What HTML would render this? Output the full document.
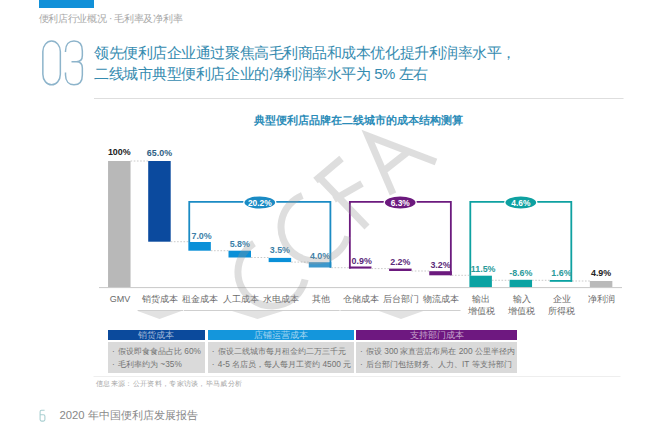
<!DOCTYPE html>
<html><head><meta charset="utf-8"><style>
html,body{margin:0;padding:0;background:#fff;}
body{width:660px;height:441px;position:relative;overflow:hidden;font-family:"Liberation Sans",sans-serif;}
.a{position:absolute;white-space:nowrap;}
.j{display:inline-block;white-space:nowrap;text-align:justify;text-align-last:justify;}
.cat{position:absolute;top:292.5px;width:50px;text-align:center;font-size:9px;line-height:12.2px;color:#6a6a6a;}
.hdr{position:absolute;top:329.6px;height:10.5px;font-size:9.3px;line-height:10.5px;text-align:center;color:rgba(255,255,255,0.6);}
.bd{position:absolute;top:342px;height:30.5px;background:#dadada;font-size:8.3px;color:#737373;}
.bd div{position:absolute;left:10px;white-space:nowrap;line-height:10px;}
.bd b{position:absolute;left:-6px;font-weight:normal;}
</style></head><body>
<div class="a" style="left:39px;top:0;width:54.5px;height:7.5px;background:#1190d8"></div>
<div class="a"><span class="j" style="width:143.80px;position:absolute;left:38.5px;top:12.6px;font-size:10px;line-height:12px;color:#a8a8a8;letter-spacing:-0.3px">便利店行业概况 · 毛利率及净利率</span></div>
<svg class="a" style="left:0;top:0" width="660" height="441" viewBox="0 0 660 441">
<g fill="none" stroke="#8db4cb" stroke-width="1.5">
<rect x="42.85" y="41.05" width="17.5" height="43.8" rx="8.75" ry="10.5"/>
<path d="M65.5 52 V51 C65.5 44.5 69 41.05 74 41.05 C79 41.05 82.35 44.5 82.35 51 V55.5 C82.35 59.5 80 61.7 76.5 61.7 H71.5 M76.5 61.7 C80 61.7 82.35 64 82.35 68 V75 C82.35 81.4 79 84.85 74 84.85 C69 84.85 65.5 81.4 65.5 75 V72.5"/>
</g>
<line x1="94" y1="98.5" x2="623.5" y2="98.5" stroke="#dedede" stroke-width="1.2"/>
<line x1="93.5" y1="376.5" x2="620.5" y2="376.5" stroke="#eeeeee" stroke-width="1"/>
</svg>
<div class="a" style="left:94px;top:41.5px;font-size:15px;letter-spacing:-0.45px;line-height:21.8px;color:#358bb0"><span class="j" style="width:421.95px;">领先便利店企业通过聚焦高毛利商品和成本优化提升利润率水平，</span><br><span class="j" style="width:333.77px;">二线城市典型便利店企业的净利润率水平为 5% 左右</span></div>
<div class="a" style="left:253.6px;top:113.5px;font-size:10.9px;line-height:13px;font-weight:bold;color:#2b8cb8"><span class="j" style="width:209.00px;">典型便利店品牌在二线城市的成本结构测算</span></div>
<svg class="a" style="left:0;top:0" width="660" height="441" viewBox="0 0 660 441">
<rect x="108.05" y="161" width="22.5" height="126.30" fill="#b8b8b8"/>
<rect x="148.20" y="161" width="22.5" height="80.70" fill="#0b4a9e"/>
<rect x="188.35" y="242" width="22.5" height="8.70" fill="#0a90d8"/>
<rect x="228.50" y="250.7" width="22.5" height="6.80" fill="#0a90d8"/>
<rect x="268.65" y="257.9" width="22.5" height="4.20" fill="#0a90d8"/>
<rect x="308.80" y="262.2" width="22.5" height="5.30" fill="#3d98cc"/>
<rect x="348.95" y="266.5" width="22.5" height="2.10" fill="#6c1a7e"/>
<rect x="389.10" y="268.6" width="22.5" height="2.40" fill="#6c1a7e"/>
<rect x="429.25" y="271.2" width="22.5" height="4.10" fill="#6c1a7e"/>
<rect x="469.40" y="275.7" width="22.5" height="11.80" fill="#0aa2a2"/>
<rect x="509.55" y="279.8" width="22.5" height="7.70" fill="#0aa2a2"/>
<rect x="549.70" y="280.0" width="22.5" height="1.80" fill="#0aa2a2"/>
<rect x="589.85" y="281.0" width="22.5" height="6.30" fill="#bababa"/>
<line x1="130.55" y1="161" x2="148.20" y2="161" stroke="#c4c4c4" stroke-width="0.9" stroke-dasharray="1.6 1.6"/>
<line x1="170.70" y1="241.7" x2="188.35" y2="241.7" stroke="#c4c4c4" stroke-width="0.9" stroke-dasharray="1.6 1.6"/>
<line x1="210.85" y1="250.7" x2="228.50" y2="250.7" stroke="#c4c4c4" stroke-width="0.9" stroke-dasharray="1.6 1.6"/>
<line x1="251.00" y1="257.5" x2="268.65" y2="257.5" stroke="#c4c4c4" stroke-width="0.9" stroke-dasharray="1.6 1.6"/>
<line x1="291.15" y1="262.1" x2="308.80" y2="262.1" stroke="#c4c4c4" stroke-width="0.9" stroke-dasharray="1.6 1.6"/>
<line x1="331.30" y1="267.7" x2="348.95" y2="267.7" stroke="#c4c4c4" stroke-width="0.9" stroke-dasharray="1.6 1.6"/>
<line x1="371.45" y1="268.6" x2="389.10" y2="268.6" stroke="#c4c4c4" stroke-width="0.9" stroke-dasharray="1.6 1.6"/>
<line x1="411.60" y1="271" x2="429.25" y2="271" stroke="#c4c4c4" stroke-width="0.9" stroke-dasharray="1.6 1.6"/>
<line x1="451.75" y1="275.3" x2="469.40" y2="275.3" stroke="#c4c4c4" stroke-width="0.9" stroke-dasharray="1.6 1.6"/>
<line x1="491.90" y1="280.3" x2="509.55" y2="280.3" stroke="#c4c4c4" stroke-width="0.9" stroke-dasharray="1.6 1.6"/>
<line x1="532.05" y1="280.3" x2="549.70" y2="280.3" stroke="#c4c4c4" stroke-width="0.9" stroke-dasharray="1.6 1.6"/>
<line x1="572.20" y1="281" x2="589.85" y2="281" stroke="#c4c4c4" stroke-width="0.9" stroke-dasharray="1.6 1.6"/>
<path d="M189.25 242 V201.8 H330.40 V267.7" fill="none" stroke="#1b8bc4" stroke-width="1.8"/><ellipse cx="259.8" cy="202.5" rx="16.6" ry="7.3" fill="#fff"/><ellipse cx="259.8" cy="202.5" rx="15.3" ry="6.1" fill="#1b8bc4"/><text x="259.8" y="205.6" text-anchor="middle" font-family="Liberation Sans" font-weight="bold" font-size="8.4" fill="#fff">20.2%</text>
<path d="M349.85 268.6 V201.8 H450.85 V275.3" fill="none" stroke="#6c1a7e" stroke-width="1.8"/><ellipse cx="400.2" cy="202.5" rx="16.6" ry="7.3" fill="#fff"/><ellipse cx="400.2" cy="202.5" rx="15.3" ry="6.1" fill="#6c1a7e"/><text x="400.2" y="205.6" text-anchor="middle" font-family="Liberation Sans" font-weight="bold" font-size="8.4" fill="#fff">6.3%</text>
<path d="M470.30 275.7 V201.8 H571.30 V281.8" fill="none" stroke="#0ea1a1" stroke-width="1.8"/><ellipse cx="520.8" cy="202.5" rx="16.6" ry="7.3" fill="#fff"/><ellipse cx="520.8" cy="202.5" rx="15.3" ry="6.1" fill="#0ea1a1"/><text x="520.8" y="205.6" text-anchor="middle" font-family="Liberation Sans" font-weight="bold" font-size="8.4" fill="#fff">4.6%</text>
<line x1="99" y1="287.6" x2="622" y2="287.6" stroke="#c8c8c8" stroke-width="1"/>
<line x1="137.6" y1="310.5" x2="183.3" y2="310.5" stroke="#cfcfcf" stroke-width="1"/>
<line x1="184" y1="310.5" x2="339.6" y2="310.5" stroke="#cfcfcf" stroke-width="1"/>
<line x1="340.4" y1="310.5" x2="460.5" y2="310.5" stroke="#cfcfcf" stroke-width="1"/>
<polygon points="137.6,311 181.5,311 159.5,319" fill="#e2e2e2"/>
<polygon points="232,311 283,311 257.5,319" fill="#e2e2e2"/>
<polygon points="379,311 423.4,311 401,319" fill="#e2e2e2"/>
<text x="119.30" y="155.3" text-anchor="middle" font-family="Liberation Sans" font-weight="bold" font-size="8.9" fill="#222">100%</text>
<text x="159.45" y="156.4" text-anchor="middle" font-family="Liberation Sans" font-weight="bold" font-size="8.9" fill="#2f5f85">65.0%</text>
<text x="201.60" y="238.8" text-anchor="middle" font-family="Liberation Sans" font-weight="bold" font-size="8.9" fill="#3c7fa8">7.0%</text>
<text x="239.75" y="247.4" text-anchor="middle" font-family="Liberation Sans" font-weight="bold" font-size="8.9" fill="#3c7fa8">5.8%</text>
<text x="279.90" y="253.4" text-anchor="middle" font-family="Liberation Sans" font-weight="bold" font-size="8.9" fill="#3c7fa8">3.5%</text>
<text x="320.05" y="258.8" text-anchor="middle" font-family="Liberation Sans" font-weight="bold" font-size="8.9" fill="#3c7fa8">4.0%</text>
<text x="361.70" y="264.2" text-anchor="middle" font-family="Liberation Sans" font-weight="bold" font-size="8.9" fill="#5b2a7a">0.9%</text>
<text x="400.35" y="265.2" text-anchor="middle" font-family="Liberation Sans" font-weight="bold" font-size="8.9" fill="#5b2a7a">2.2%</text>
<text x="440.50" y="267.8" text-anchor="middle" font-family="Liberation Sans" font-weight="bold" font-size="8.9" fill="#5b2a7a">3.2%</text>
<text x="483.15" y="271.5" text-anchor="middle" font-family="Liberation Sans" font-weight="bold" font-size="8.9" fill="#2a9a9a">11.5%</text>
<text x="520.80" y="275.5" text-anchor="middle" font-family="Liberation Sans" font-weight="bold" font-size="8.9" fill="#2a9a9a">-8.6%</text>
<text x="561.45" y="275.5" text-anchor="middle" font-family="Liberation Sans" font-weight="bold" font-size="8.9" fill="#2a9a9a">1.6%</text>
<text x="601.10" y="275.8" text-anchor="middle" font-family="Liberation Sans" font-weight="bold" font-size="8.9" fill="#222">4.9%</text>
</svg>
<div class="cat" style="left:95.10px"><span class="j" style="width:20.52px;">GMV</span></div><div class="cat" style="left:135.25px"><span class="j" style="width:36.00px;">销货成本</span></div><div class="cat" style="left:175.40px"><span class="j" style="width:36.00px;">租金成本</span></div><div class="cat" style="left:215.55px"><span class="j" style="width:36.00px;">人工成本</span></div><div class="cat" style="left:255.70px"><span class="j" style="width:36.00px;">水电成本</span></div><div class="cat" style="left:295.85px"><span class="j" style="width:18.00px;">其他</span></div><div class="cat" style="left:336.00px"><span class="j" style="width:36.00px;">仓储成本</span></div><div class="cat" style="left:376.15px"><span class="j" style="width:36.00px;">后台部门</span></div><div class="cat" style="left:416.30px"><span class="j" style="width:36.00px;">物流成本</span></div><div class="cat" style="left:456.45px"><span class="j" style="width:18.00px;">输出</span><br><span class="j" style="width:27.00px;">增值税</span></div><div class="cat" style="left:496.60px"><span class="j" style="width:18.00px;">输入</span><br><span class="j" style="width:27.00px;">增值税</span></div><div class="cat" style="left:536.75px"><span class="j" style="width:18.00px;">企业</span><br><span class="j" style="width:27.00px;">所得税</span></div><div class="cat" style="left:576.90px"><span class="j" style="width:27.00px;">净利润</span></div>
<div class="hdr" style="left:108px;width:96.5px;background:#0b4a9c"><span class="j" style="width:36.00px;">销货成本</span></div>
<div class="hdr" style="left:207.8px;width:146px;background:#1496dc"><span class="j" style="width:54.00px;">店铺运营成本</span></div>
<div class="hdr" style="left:356px;width:161px;background:#6e1880"><span class="j" style="width:54.00px;">支持部门成本</span></div>
<div class="bd" style="left:108px;width:96.5px"><div style="top:4.3px"><b>·</b><span class="j" style="width:82.92px;">假设即食食品占比 60%</span></div><div style="top:16.5px"><b>·</b><span class="j" style="width:63.77px;">毛利率约为 ~35%</span></div></div>
<div class="bd" style="left:207.8px;width:146px"><div style="top:4.3px"><b>·</b><span class="j" style="width:128.00px;">假设二线城市每月租金约二万三千元</span></div><div style="top:16.5px"><b>·</b><span class="j" style="width:133.38px;">4-5 名店员，每人每月工资约 4500 元</span></div></div>
<div class="bd" style="left:356px;width:161px"><div style="top:4.3px"><b>·</b><span class="j" style="width:148.92px;">假设 300 家直营店布局在 200 公里半径内</span></div><div style="top:16.5px"><b>·</b><span class="j" style="width:145.53px;">后台部门包括财务、人力、IT 等支持部门</span></div></div>
<svg class="a" style="left:0;top:0" width="660" height="441" viewBox="0 0 660 441"><g fill="none" stroke="#969696" stroke-opacity="0.31" stroke-width="7" stroke-linecap="butt"><path d="M254.0 243.2 A34 34 0 1 0 305.1 279.6"/><path d="M302.3 195.5 A34 34 0 1 0 347.7 236.4"/><path d="M319.5 177.5 L367 227 M315.5 180.5 L341.5 158.5 M334 199.5 L362 183.5"/><path d="M393 194 L368 136 L436 162 M381 173 L409 151"/></g></svg>
<div class="a" style="left:96px;top:379px;font-size:7.3px;letter-spacing:0.32px;line-height:9px;color:#a6a6a6"><span class="j" style="width:146.41px;">信息来源：公开资料，专家访谈，毕马威分析</span></div>
<svg class="a" style="left:0;top:400px" width="60" height="30" viewBox="0 400 60 30"><path d="M44.6 410.2 H41.5 Q40.1 410.2 40.1 411.8 V419.6 Q40.1 421.1 41.6 421.1 H43.4 Q44.9 421.1 44.9 419.6 V416.3 Q44.9 414.8 43.4 414.8 H40.1" fill="none" stroke="#a9cfd1" stroke-width="1.1"/></svg>
<div class="a" style="left:59.4px;top:408px;font-size:11.3px;line-height:14px;color:#888"><span class="j" style="width:138.28px;">2020 年中国便利店发展报告</span></div>
</body></html>
